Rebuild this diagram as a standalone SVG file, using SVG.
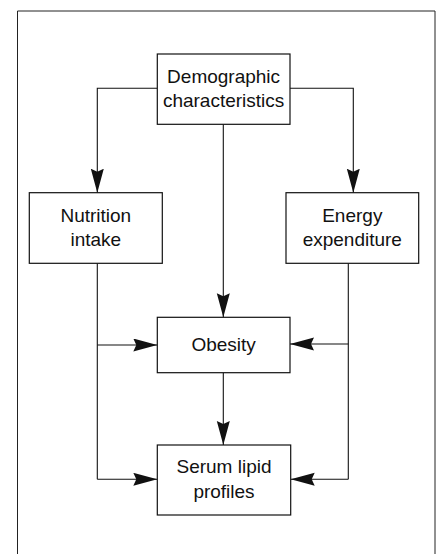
<svg xmlns="http://www.w3.org/2000/svg" width="441" height="554" viewBox="0 0 441 554">
<defs>
<style>
.box{fill:#fff;stroke:#111;stroke-width:1.2}
.t{font-family:"Liberation Sans",Arial,sans-serif;font-size:19px;fill:#111;text-anchor:middle}
.c{fill:none;stroke:#111;stroke-width:1.1}
.frame{fill:none;stroke:#222;stroke-width:1}
</style>
<marker id="ah" markerUnits="userSpaceOnUse" markerWidth="26" markerHeight="14" refX="24" refY="6.5" orient="auto">
<path d="M0,0 L24,6.5 L0,13 L3,6.5 Z" fill="#111"/>
</marker>
</defs>
<rect width="441" height="554" fill="#fff"/>
<path class="frame" d="M17.5,560 V11 H435 V560"/>
<g id="connectors">
<path class="c" d="M157.3,88.3 H97.3 V192.7" marker-end="url(#ah)"/>
<path class="c" d="M290,88.3 H353.3 V192.7" marker-end="url(#ah)"/>
<path class="c" d="M223.3,124.3 V317.3" marker-end="url(#ah)"/>
<path class="c" d="M97.3,263.3 V479.3"/>
<path class="c" d="M97.3,345 H157.3" marker-end="url(#ah)"/>
<path class="c" d="M97.3,479.3 H157.3" marker-end="url(#ah)"/>
<path class="c" d="M348.3,263.3 V479.3"/>
<path class="c" d="M348.3,344 H290" marker-end="url(#ah)"/>
<path class="c" d="M348.3,479.3 H290.7" marker-end="url(#ah)"/>
<path class="c" d="M223.3,372.7 V445" marker-end="url(#ah)"/>
</g>
<g id="demographic">
<rect class="box" x="157.3" y="54" width="132.7" height="70.3"/>
<text class="t" x="223.6" y="83">Demographic</text>
<text class="t" x="223.6" y="107">characteristics</text>
</g>
<g id="nutrition">
<rect class="box" x="29.3" y="192.7" width="133" height="70.6"/>
<text class="t" x="95.8" y="221.7">Nutrition</text>
<text class="t" x="95.8" y="246">intake</text>
</g>
<g id="energy">
<rect class="box" x="286" y="192.7" width="132.7" height="70.6"/>
<text class="t" x="352.3" y="221.7">Energy</text>
<text class="t" x="352.3" y="246">expenditure</text>
</g>
<g id="obesity">
<rect class="box" x="157.3" y="317.3" width="132.7" height="55.4"/>
<text class="t" x="223.6" y="351">Obesity</text>
</g>
<g id="serum">
<rect class="box" x="157.3" y="445" width="133.4" height="70"/>
<text class="t" x="224" y="473.3">Serum lipid</text>
<text class="t" x="224" y="498.3">profiles</text>
</g>
</svg>
